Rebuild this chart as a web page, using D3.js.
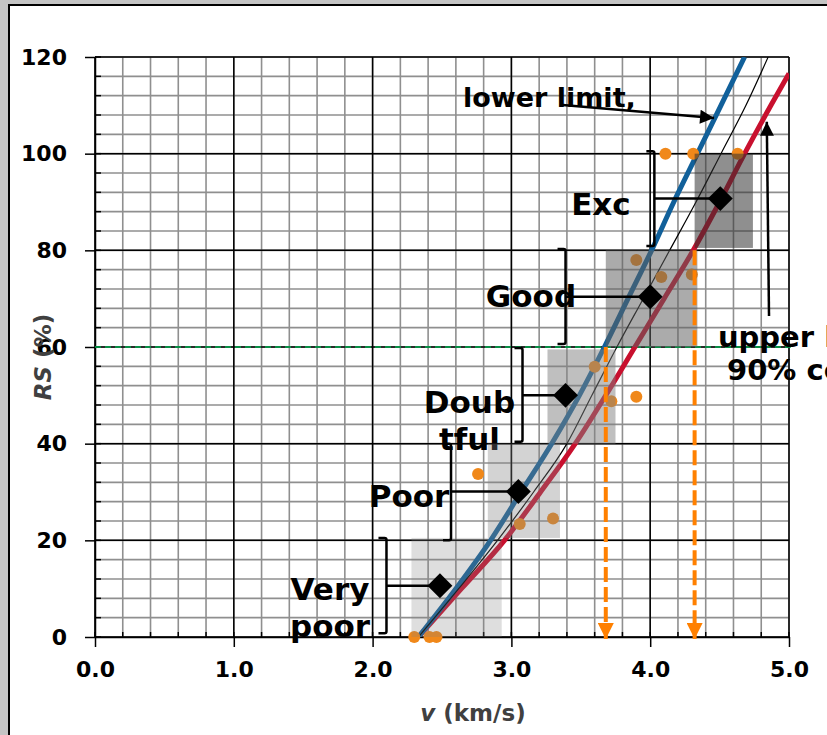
<!DOCTYPE html>
<html>
<head>
<meta charset="utf-8">
<script src="https://cdn.jsdelivr.net/npm/d3@7"></script>
<style>
body { margin: 0; background: #c4c4c4; }
svg { display: block; }
text { font-family: "DejaVu Sans", Verdana, sans-serif; font-weight: bold; }
</style>
</head>
<body>
<div id="chart"></div>
<script>
// tick values
const xTicks = [0, 1, 2, 3, 4, 5]
const yTicks = [0, 20, 40, 60, 80, 100, 120]

// curves (v in km/s for each RS %)
const curveRS = [0, 10, 20, 30, 40, 50, 60, 70, 80, 90, 100, 110, 120]
const lowerV  = [2.33, 2.60, 2.85, 3.07, 3.29, 3.49, 3.67, 3.84, 4.01, 4.17, 4.34, 4.51, 4.68]
const meanV   = [2.33, 2.62, 2.90, 3.16, 3.40, 3.58, 3.76, 3.95, 4.14, 4.33, 4.51, 4.69, 4.85]
const upperRS = [0, 10, 20, 30, 40, 50, 60, 70, 80, 90, 100, 110, 116.6]
const upperV  = [2.33, 2.64, 2.95, 3.21, 3.46, 3.68, 3.89, 4.10, 4.31, 4.50, 4.68, 4.87, 5.0]

// measured points (orange)
const sampleV  = [2.30, 2.41, 2.46, 2.76, 3.06, 3.30, 3.60, 3.72, 3.90, 3.90, 4.08, 4.30, 4.11, 4.31, 4.63]
const sampleRS = [0, 0, 0, 33.7, 23.4, 24.5, 55.9, 48.8, 49.7, 78, 74.5, 75.0, 100, 100, 100]

// rock classes
const classNames  = [["Very", "poor"], ["Poor"], ["Doub", "tful"], ["Good"], ["Exc"]]
const classRSLow  = [0, 20.5, 40, 60, 80.5]
const classRSHigh = [20.5, 40, 59.5, 80, 100]
const classVLow   = [2.28, 2.83, 3.26, 3.68, 4.32]
const classVHigh  = [2.93, 3.35, 3.75, 4.34, 4.74]
const centreV     = [2.485, 3.05, 3.39, 4.0, 4.505]
const centreRS    = [10.6, 30.1, 50, 70.4, 90.7]
const bracketV    = [2.10, 2.565, 3.08, 3.39, 4.03]
const bracketLow  = [0.8, 20, 40.4, 60.6, 80.9]
const bracketHigh = [20.5, 40, 59.8, 80.3, 100.5]
const labelV      = [1.693, 2.262, 2.698, 3.141, 3.645]
const labelRS     = [7.6, 26.9, 46.3, 68.3, 87.3]

// dashed drop lines (where the limits hit 60 and 80 %)
const dropV  = [3.68, 4.32]
const dropRS = [60, 80]

const W = 827, H = 735

var x = d3.scaleLinear().domain([0, 5]).range([95, 789])
var y = d3.scaleLinear().domain([0, 120]).range([637, 57])

var svg = d3.select("#chart").append("svg")
    .attr("width", W)
    .attr("height", H)

svg.append("rect").attr("width", W).attr("height", H).attr("fill", "#c4c4c4")
svg.append("rect")
    .attr("x", 9).attr("y", 5)
    .attr("width", W + 40).attr("height", H + 40)
    .attr("fill", "#fff").attr("stroke", "#000").attr("stroke-width", 2)

var defs = svg.append("defs")
defs.append("clipPath").attr("id", "plot")
  .append("rect")
    .attr("x", x(0)).attr("y", y(120))
    .attr("width", x(5) - x(0)).attr("height", y(0) - y(120))

function marker(id, color, w, h) {
  defs.append("marker")
      .attr("id", id)
      .attr("viewBox", "0 0 10 10")
      .attr("refX", 10).attr("refY", 5)
      .attr("markerUnits", "userSpaceOnUse")
      .attr("markerWidth", w).attr("markerHeight", h)
      .attr("orient", "auto")
    .append("path")
      .attr("d", "M0,0L10,5L0,10Z")
      .attr("fill", color)
}
marker("arrBlack", "#000", 18, 14)
marker("arrOrange", "#ff8000", 16, 16)

// grid: minor grey every 0.2 / 4, major black every 1 / 20
var grid = svg.append("g")
grid.selectAll(".vmin").data(d3.range(0, 5.001, 0.2)).join("line")
    .attr("x1", d => x(d)).attr("x2", d => x(d))
    .attr("y1", y(0)).attr("y2", y(120))
    .attr("stroke", "#8f8f8f").attr("stroke-width", 1.6)
grid.selectAll(".hmin").data(d3.range(0, 120.1, 4)).join("line")
    .attr("y1", d => y(d)).attr("y2", d => y(d))
    .attr("x1", x(0)).attr("x2", x(5))
    .attr("stroke", "#8f8f8f").attr("stroke-width", 1.6)
grid.selectAll(".vmaj").data(xTicks).join("line")
    .attr("x1", d => x(d)).attr("x2", d => x(d))
    .attr("y1", y(0)).attr("y2", y(120))
    .attr("stroke", "#000").attr("stroke-width", 1.5)
grid.selectAll(".hmaj").data(yTicks).join("line")
    .attr("y1", d => y(d)).attr("y2", d => y(d))
    .attr("x1", x(0)).attr("x2", x(5))
    .attr("stroke", "#000").attr("stroke-width", 1.5)

// small inner minor ticks
grid.selectAll(".xmt").data(d3.range(0, 5.001, 0.2)).join("line")
    .attr("x1", d => x(d)).attr("x2", d => x(d))
    .attr("y1", y(0)).attr("y2", y(0) - 5)
    .attr("stroke", "#000").attr("stroke-width", 1.5)
grid.selectAll(".ymt").data(d3.range(0, 120.1, 4)).join("line")
    .attr("y1", d => y(d)).attr("y2", d => y(d))
    .attr("x1", x(0)).attr("x2", x(0) + 6)
    .attr("stroke", "#000").attr("stroke-width", 1.5)

// axes
var xAxis = svg.append("g")
    .attr("transform", "translate(0," + y(0) + ")")
    .call(d3.axisBottom(x).tickValues(xTicks).tickFormat(d3.format(".1f"))
      .tickSize(10).tickSizeOuter(0).tickPadding(14))
var yAxis = svg.append("g")
    .attr("transform", "translate(" + x(0) + ",0)")
    .call(d3.axisLeft(y).tickValues(yTicks).tickSize(10).tickSizeOuter(0).tickPadding(18))
svg.selectAll(".tick line").attr("stroke", "#000").attr("stroke-width", 1.5)
svg.selectAll(".domain").attr("stroke", "#000").attr("stroke-width", 1.5)
svg.selectAll(".tick text")
    .attr("fill", "#000")
    .style("font-size", "22px")
    .style("font-family", "'DejaVu Sans', sans-serif")
    .style("font-weight", "bold")

// axis titles
var xt = svg.append("text")
    .attr("x", 473).attr("y", 721)
    .attr("text-anchor", "middle")
    .attr("fill", "#404040")
    .style("font-size", "23px")
xt.append("tspan").style("font-style", "italic").text("v")
xt.append("tspan").text(" (km/s)")

var yt = svg.append("text")
    .attr("transform", "translate(51,357) rotate(-90)")
    .attr("text-anchor", "middle")
    .attr("fill", "#404040")
    .style("font-size", "23px")
yt.append("tspan").style("font-style", "italic").text("RS")
yt.append("tspan").text(" (%)")

// green dashed reference at 60 %
svg.append("line")
    .attr("x1", x(0)).attr("x2", x(5) + 5)
    .attr("y1", y(60)).attr("y2", y(60))
    .attr("stroke", "#00b050").attr("stroke-width", 1.5)
    .attr("stroke-dasharray", "6,4")

// curves
var plot = svg.append("g").attr("clip-path", "url(#plot)")
var line = d3.line()
    .x(d => x(d[0]))
    .y(d => y(d[1]))
    .curve(d3.curveMonotoneX)

plot.append("path")
    .attr("d", line(d3.zip(upperV, upperRS)))
    .attr("fill", "none").attr("stroke", "#c8102e").attr("stroke-width", 5)
plot.append("path")
    .attr("d", line(d3.zip(lowerV, curveRS)))
    .attr("fill", "none").attr("stroke", "#11609a").attr("stroke-width", 5)
plot.append("path")
    .attr("d", line(d3.zip(meanV, curveRS)))
    .attr("fill", "none").attr("stroke", "#000").attr("stroke-width", 1.2)

// measured points
svg.append("g").selectAll("circle")
    .data(d3.zip(sampleV, sampleRS))
    .join("circle")
    .attr("cx", d => x(d[0]))
    .attr("cy", d => y(d[1]))
    .attr("r", 6)
    .attr("fill", "#f0881a")

// annotation text
svg.append("text")
    .attr("x", x(2.651)).attr("y", y(109.7))
    .style("font-size", "27px")
    .text("lower limit,")
var up = svg.append("text").style("font-size", "29px")
up.append("tspan").attr("x", x(4.488)).attr("y", y(60)).text("upper limit,")
up.append("tspan").attr("x", x(4.553)).attr("y", y(53.2)).text("90% conf.")

// class labels
classNames.forEach(function(lines, i) {
  var t = svg.append("text")
      .attr("text-anchor", "middle")
      .style("font-size", "31px")
  lines.forEach(function(s, j) {
    t.append("tspan")
      .attr("x", x(labelV[i]))
      .attr("y", y(labelRS[i]) + j * 37)
      .text(s)
  })
})

// class boxes, drawn over lines and points
var boxFill = ["#808080", "#808080", "#808080", "#606060", "#303030"]
var boxOpacity = [0.26, 0.35, 0.5, 0.53, 0.54]
svg.append("g").selectAll("rect")
    .data(d3.range(classNames.length))
    .join("rect")
    .attr("x", i => x(classVLow[i]))
    .attr("y", i => y(classRSHigh[i]))
    .attr("width", i => x(classVHigh[i]) - x(classVLow[i]))
    .attr("height", i => y(classRSLow[i]) - y(classRSHigh[i]))
    .attr("fill", (i) => boxFill[i])
    .attr("fill-opacity", (i) => boxOpacity[i])

// brackets and leader lines
var br = svg.append("g")
    .attr("fill", "none").attr("stroke", "#000").attr("stroke-width", 2.5)
d3.range(classNames.length).forEach(function(i) {
  var bx = x(bracketV[i]), t = y(bracketHigh[i]), b = y(bracketLow[i])
  br.append("path")
    .attr("d", "M" + (bx - 8) + "," + t + "H" + (bx - 2) + "Q" + bx + "," + t + " " + bx + "," + (t + 2)
      + "V" + (b - 2) + "Q" + bx + "," + b + " " + (bx - 2) + "," + b + "H" + (bx - 8))
  br.append("line")
    .attr("x1", bx).attr("x2", x(centreV[i]))
    .attr("y1", y(centreRS[i])).attr("y2", y(centreRS[i]))
})

// class centre diamonds
svg.append("g").selectAll("path")
    .data(d3.zip(centreV, centreRS))
    .join("path")
    .attr("transform", d => "translate(" + x(d[0]) + "," + y(d[1]) + ") rotate(45)")
    .attr("d", d3.symbol().type(d3.symbolSquare).size(310))
    .attr("fill", "#000")

// orange dashed drops
svg.append("g").selectAll("line")
    .data(d3.zip(dropV, dropRS))
    .join("line")
    .attr("x1", d => x(d[0])).attr("x2", d => x(d[0]))
    .attr("y1", d => y(d[1])).attr("y2", y(0) + 2)
    .attr("stroke", "#ff8000").attr("stroke-width", 4)
    .attr("stroke-dasharray", "15,5")
    .attr("marker-end", "url(#arrOrange)")

// arrows to the limit curves
svg.append("line")
    .attr("x1", x(3.35)).attr("y1", y(110.1))
    .attr("x2", x(4.46)).attr("y2", y(107.4))
    .attr("stroke", "#000").attr("stroke-width", 2.5)
    .attr("marker-end", "url(#arrBlack)")
svg.append("line")
    .attr("x1", x(4.856)).attr("y1", y(66.4))
    .attr("x2", x(4.84)).attr("y2", y(106.6))
    .attr("stroke", "#000").attr("stroke-width", 2.5)
    .attr("marker-end", "url(#arrBlack)")
</script>
</body>
</html>
